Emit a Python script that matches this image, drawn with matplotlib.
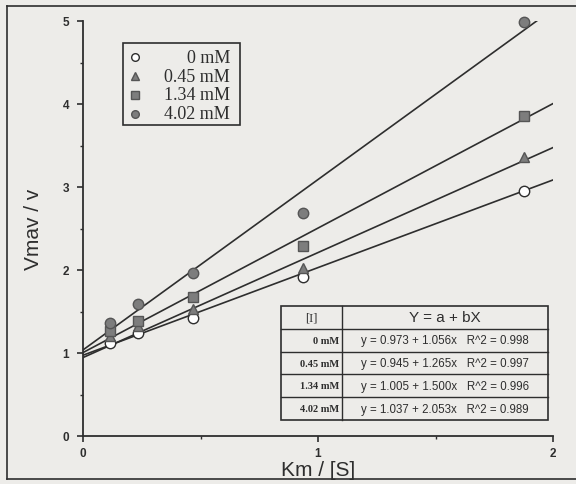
import matplotlib
matplotlib.use("Agg")
import matplotlib.pyplot as plt
from matplotlib.patches import Rectangle
from matplotlib.lines import Line2D
import numpy as np

# ---- data ----
km_s = [0.117, 0.234, 0.468, 0.936, 1.877]
labels = ["0 mM", "0.45 mM", "1.34 mM", "4.02 mM"]
v_0 = [1.12, 1.24, 1.42, 1.91, 2.95]
v_045 = [1.20, 1.32, 1.53, 2.03, 3.36]
v_134 = [1.26, 1.39, 1.68, 2.29, 3.85]
v_402 = [1.36, 1.59, 1.96, 2.69, 4.99]
intercepts = [0.973, 0.945, 1.005, 1.037]
slopes = [1.056, 1.265, 1.500, 2.053]
r2 = [0.998, 0.997, 0.996, 0.989]
series = [v_0, v_045, v_134, v_402]
xticks = [0, 1, 2]
yticks = [0, 1, 2, 3, 4, 5]

bg = "#edece9"
ink = "#2e2e2e"
grey = "#7d7d7d"
markers = ["o", "^", "s", "o"]
faces = ["white", grey, grey, grey]

plt.rcParams["font.family"] = ["Liberation Sans", "DejaVu Sans"]

fig = plt.figure(figsize=(5.76, 4.85), dpi=100, facecolor=bg)
ax = fig.add_axes([83/576, 1-437/485, 470/576, 415/485])
ax.set_facecolor(bg)
ax.set_xlim(0, 2)
ax.set_ylim(0, 5)

for sp in ["top", "right"]:
    ax.spines[sp].set_visible(False)
for sp in ["left", "bottom"]:
    ax.spines[sp].set_color(ink)
    ax.spines[sp].set_linewidth(1.3)

ax.set_xticks(xticks)
ax.set_yticks(yticks)
ax.set_xticks([0.5, 1.5], minor=True)
ax.set_yticks([0.5, 1.5, 2.5, 3.5, 4.5], minor=True)
ax.tick_params(which="major", direction="out", length=4, width=1.2, color=ink,
               labelsize=8.5, labelcolor=ink, pad=6)
ax.tick_params(axis="x", which="major", pad=4)
ax.tick_params(which="minor", direction="out", length=2, width=1.0, color=ink)
for t in ax.get_xticklabels() + ax.get_yticklabels():
    t.set_fontweight("bold")

# fit lines
xl = np.array([0.0, 2.0])
for a, b in zip(intercepts, slopes):
    ax.plot(xl, a + b * xl, color=ink, lw=1.2, zorder=2)

# data points
for ys, m, fc in zip(series, markers, faces):
    ax.plot(km_s, ys, linestyle="none", marker=m, ms=7.5, mfc=fc,
            mec="#555555" if fc != "white" else ink, mew=1.0, zorder=3, clip_on=False)

ax.set_xlabel("Km / [S]", fontsize=15, color=ink, labelpad=0)
ax.set_ylabel("Vmav / v", fontsize=15, color=ink, labelpad=14)
ax.xaxis.set_label_coords(0.5, -0.057)

# legend (manual)
ax.add_patch(Rectangle((0.085, 0.749), 0.249, 0.198, transform=ax.transAxes,
                       fill=False, ec=ink, lw=1.2, zorder=4))
leg_y = [0.913, 0.867, 0.822, 0.776]
for lab, m, fc, yy in zip(labels, markers, faces, leg_y):
    ax.plot([0.111], [yy], transform=ax.transAxes, marker=m, ms=5.5, mfc=fc,
            mec="#555555" if fc != "white" else ink, mew=1.0, linestyle="none", zorder=5)
    ax.text(0.313, yy, lab, transform=ax.transAxes, ha="right", va="center",
            fontsize=13, family=["Liberation Serif", "DejaVu Serif"], color=ink, zorder=5)

# equation table
tx0, tx1 = 0.421, 0.989
ty0, ty1 = 0.0386, 0.313
cdiv = (342 - 83) / 470
nrows = 5
rh = (ty1 - ty0) / nrows
ax.add_patch(Rectangle((tx0, ty0), tx1 - tx0, ty1 - ty0, transform=ax.transAxes,
                       facecolor=bg, ec=ink, lw=1.2, zorder=4))
for i in range(1, nrows):
    yy = ty0 + i * rh
    ax.plot([tx0, tx1], [yy, yy], transform=ax.transAxes, color=ink, lw=1.0, zorder=5)
ax.plot([cdiv, cdiv], [ty0, ty1], transform=ax.transAxes, color=ink, lw=1.0, zorder=5)

hy = ty1 - rh / 2
ax.text((tx0 + cdiv) / 2, hy, "[I]", transform=ax.transAxes, ha="center", va="center",
        fontsize=9, family=["Liberation Serif", "DejaVu Serif"], color=ink, zorder=6)
ax.text((cdiv + tx1) / 2, hy, "Y = a + bX", transform=ax.transAxes, ha="center",
        va="center", fontsize=11, color=ink, zorder=6)
for i, (lab, a, b, r) in enumerate(zip(labels, intercepts, slopes, r2)):
    yy = ty1 - (i + 1.5) * rh
    ax.text(cdiv - 0.006, yy, lab, transform=ax.transAxes, ha="right", va="center",
            fontsize=7.5, fontweight="bold", family=["Liberation Serif", "DejaVu Serif"],
            color=ink, zorder=6)
    ax.text((cdiv + tx1) / 2, yy, f"y = {a:.3f} + {b:.3f}x   R^2 = {r:.3f}",
            transform=ax.transAxes, ha="center", va="center", fontsize=8.3,
            color=ink, zorder=6)

# scan frame (top, left, bottom)
fig.add_artist(Line2D([7/576, 1.0], [1-7/485, 1-7/485], color=ink, lw=1.2))
fig.add_artist(Line2D([7/576, 7/576], [1-7/485, 1-480/485], color=ink, lw=1.2))
fig.add_artist(Line2D([7/576, 1.0], [1-480/485, 1-480/485], color=ink, lw=1.2))

fig.savefig("out.png", dpi=100, facecolor=bg)
